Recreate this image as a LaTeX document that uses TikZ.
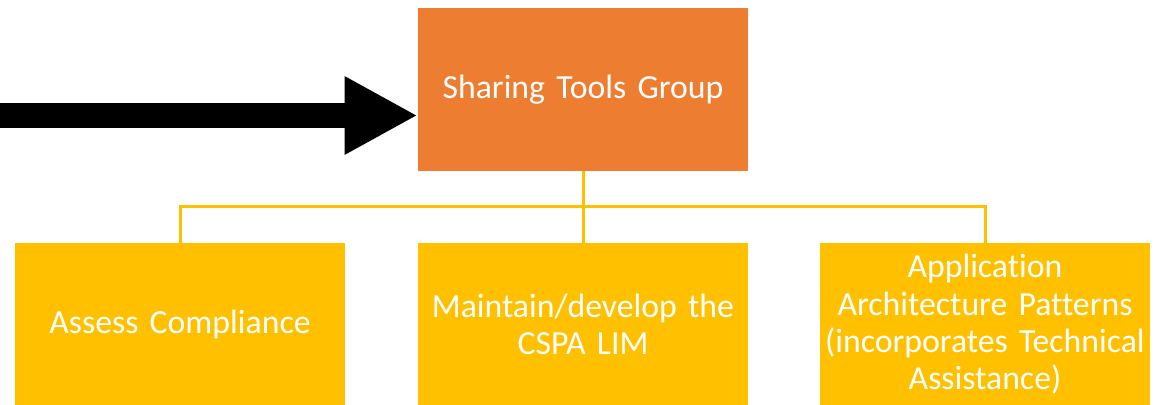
\documentclass[tikz,border=0pt]{standalone}
\usepackage{fontspec}
\setmainfont{Carlito}[Ligatures=NoCommon]
\usetikzlibrary{arrows.meta}
\definecolor{toporange}{HTML}{ED7D31}
\definecolor{taskgold}{HTML}{FFC000}

\begin{document}
\begin{tikzpicture}[x=0.025cm,y=-0.025cm]
		\tikzset{box/.style={fill=#1,text=white,inner sep=0pt,
				minimum width=8.25cm,minimum height=4.05cm,text width=8.25cm,align=center,
				font=\fontsize{24}{26.5}\selectfont}}
		\tikzset{link/.style={draw=taskgold,line width=3*0.025cm}}
		\useasboundingbox (0,0) rectangle (1159,405);
		% boxes
		\node[box=toporange] (group) at (583,89.5) {Sharing Tools Group};
		\node[box=taskgold] (assess) at (180,324.5) {Assess Compliance};
		\node[box=taskgold] (lim) at (583,324.5) {Maintain/develop the\\CSPA LIM};
		\node[box=taskgold] (patterns) at (985,324.5) {Application\\Architecture Patterns\\(incorporates Technical\\Assistance)};
		% connectors
		\draw[link] (group.south) -- (lim.north);
		\draw[link] (assess.north) -- ++(0,-36.5) -| (patterns.north);
		% big arrow
		\coordinate (in) at (0,115.5);
		\draw[line width=25*0.025cm,-{Triangle[length=73*0.025cm,width=73*0.025cm]}] (in) -- (group.west |- in);
	\end{tikzpicture}
\end{document}
